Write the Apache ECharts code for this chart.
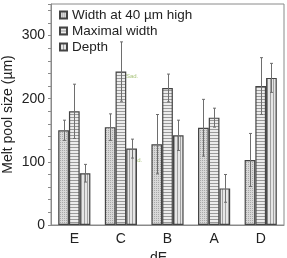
<!DOCTYPE html>
<html>
<head>
<meta charset="utf-8">
<script src="https://cdn.jsdelivr.net/npm/echarts@6/dist/echarts.min.js"></script>
<style>
  html, body { margin: 0; padding: 0; background: #fff; }
  #chart { width: 287px; height: 258px; }
</style>
</head>
<body>
<div id="chart"></div>
<script>
'use strict';

// values (µm)
var categories = ['E', 'C', 'B', 'A', 'D'];
var widthAt40 = [150, 155, 128, 154, 103];
var widthAt40Err = [16, 21, 47, 45, 42];
var maxWidth = [180, 243, 217, 170, 220];
var maxWidthErr = [43, 47, 22, 15, 45];
var depth = [82, 121, 142, 58, 233];
var depthErr = [14, 15, 24, 22, 23];
var seriesNames = ['Width at 40 µm high', 'Maximal width', 'Depth'];

var FONT = 'Liberation Sans';
var GAP = 0.31;

/**
 * small repeating hatch used as bar fill
 */
function makePattern(kind) {
    var c = document.createElement('canvas');
    var ctx = c.getContext('2d');
    if (kind === 'dots') {
        c.width = 2;
        c.height = 2;
        ctx.fillStyle = '#d8d8d8';
        ctx.fillRect(0, 0, 2, 2);
        ctx.fillStyle = '#a8a8a8';
        ctx.fillRect(0, 0, 1, 1);
    }
    else if (kind === 'hlines') {
        c.width = 3;
        c.height = 3;
        ctx.fillStyle = '#ececec';
        ctx.fillRect(0, 0, 3, 3);
        ctx.fillStyle = '#9a9a9a';
        ctx.fillRect(0, 0, 3, 1);
    }
    else {
        c.width = 3;
        c.height = 3;
        ctx.fillStyle = '#e6e6e6';
        ctx.fillRect(0, 0, 3, 3);
        ctx.fillStyle = '#a0a0a0';
        ctx.fillRect(0, 0, 1, 3);
    }
    return { image: c, repeat: 'repeat' };
}

var fills = [makePattern('dots'), makePattern('hlines'), makePattern('vlines')];
var values = [widthAt40, maxWidth, depth];
var errors = [widthAt40Err, maxWidthErr, depthErr];

function barSeries(k) {
    return {
        name: seriesNames[k],
        type: 'bar',
        barGap: 0,
        barCategoryGap: (GAP * 100) + '%',
        itemStyle: { color: fills[k], borderColor: '#444', borderWidth: 1.2 },
        emphasis: { disabled: true },
        data: values[k]
    };
}

function errorSeries(k) {
    var data = values[k].map(function (v, i) {
        return [i, v - errors[k][i], v + errors[k][i]];
    });
    return {
        type: 'custom',
        z: 5,
        silent: true,
        data: data,
        renderItem: function (params, api) {
            var band = api.size([1, 0])[0];
            var barW = band * (1 - GAP) / 3;
            var lo = api.coord([api.value(0), api.value(1)]);
            var hi = api.coord([api.value(0), api.value(2)]);
            var x = Math.round(lo[0] + (k - 1) * barW) + 0.5;
            var cap = 1.5;
            var style = { stroke: '#6e6e6e', lineWidth: 1 };
            return {
                type: 'group',
                children: [
                    { type: 'line', shape: { x1: x, y1: lo[1], x2: x, y2: hi[1] }, style: style },
                    { type: 'line', shape: { x1: x - cap, y1: hi[1], x2: x + cap, y2: hi[1] }, style: style },
                    { type: 'line', shape: { x1: x - cap, y1: lo[1], x2: x + cap, y2: lo[1] }, style: style }
                ]
            };
        }
    };
}

var series = [];
for (var k = 0; k < 3; k++) { series.push(barSeries(k)); }
for (var j = 0; j < 3; j++) { series.push(errorSeries(j)); }

var chart = echarts.init(document.getElementById('chart'), null, { renderer: 'canvas' });

chart.setOption({
    animation: false,
    textStyle: { fontFamily: FONT },
    grid: {
        left: 51, right: 3, top: 4, bottom: 33,
        outerBoundsMode: 'none',
        containLabel: false,
        show: true, borderColor: '#8a8a8a', borderWidth: 1
    },
    legend: {
        orient: 'vertical',
        left: 59, top: 8,
        padding: 0,
        icon: 'rect',
        itemWidth: 7, itemHeight: 7,
        itemGap: 2,
        selectedMode: false,
        textStyle: { fontFamily: FONT, fontSize: 13.5, color: '#222' },
        data: seriesNames
    },
    xAxis: {
        type: 'category',
        data: categories,
        name: 'dE →',
        nameLocation: 'middle',
        nameGap: 26,
        nameMoveOverlap: false,
        nameTextStyle: { fontFamily: FONT, fontSize: 14, color: '#222' },
        axisLine: { lineStyle: { color: '#8a8a8a' } },
        axisTick: { show: false },
        axisLabel: { margin: 7, fontSize: 14, color: '#222', fontFamily: FONT }
    },
    yAxis: {
        type: 'value',
        min: 0, max: 350, interval: 100,
        name: 'Melt pool size (µm)',
        nameLocation: 'middle',
        nameGap: 36,
        nameMoveOverlap: false,
        nameTextStyle: { fontFamily: FONT, fontSize: 14, color: '#222' },
        axisLine: { show: true, lineStyle: { color: '#8a8a8a' } },
        axisTick: { show: true, length: 3, lineStyle: { color: '#8a8a8a' } },
        minorTick: { show: true, splitNumber: 5, length: 3, lineStyle: { color: '#8a8a8a' } },
        splitLine: { show: false },
        axisLabel: {
            margin: 6, fontSize: 14, color: '#222', fontFamily: FONT,
            showMaxLabel: false,
            formatter: function (v) { return v % 100 === 0 ? String(v) : ''; }
        }
    },
    graphic: [
        { type: 'text', left: 126, top: 73, silent: true,
          style: { text: 'Sad.', fontSize: 6, fill: '#a9c47c', fontFamily: FONT } },
        { type: 'text', left: 130, top: 157, silent: true,
          style: { text: 'Sad.', fontSize: 6, fill: '#a9c47c', fontFamily: FONT } }
    ],
    series: series
});
</script>
</body>
</html>
